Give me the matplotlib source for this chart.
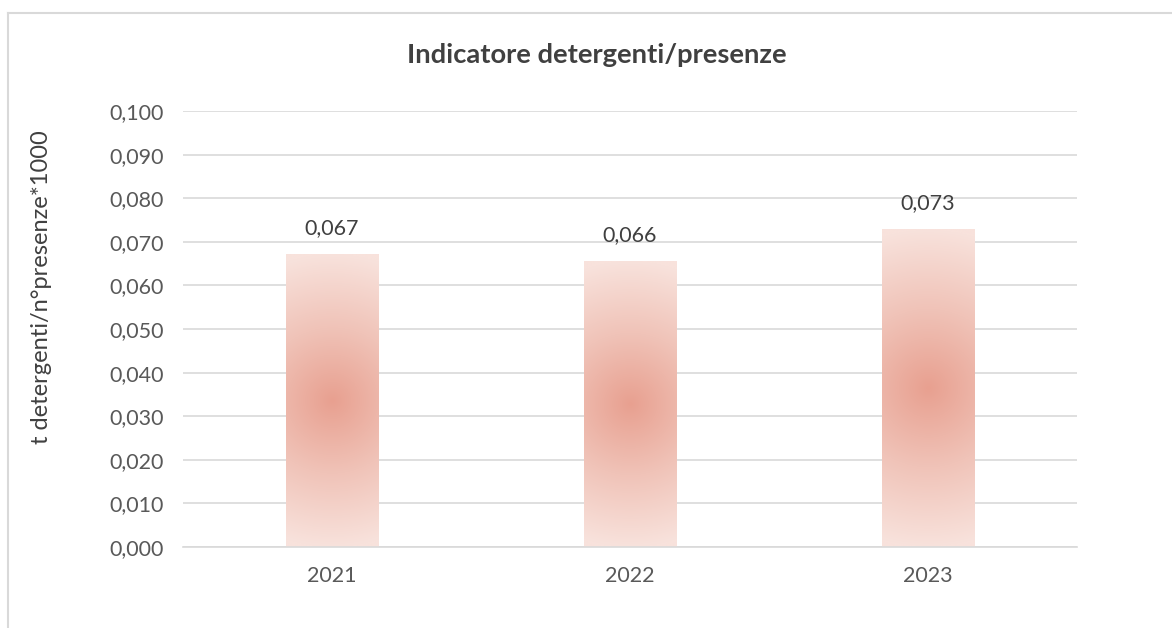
import numpy as np
import matplotlib
matplotlib.use('Agg')
import matplotlib.pyplot as plt
from matplotlib.ticker import FuncFormatter, MultipleLocator
from matplotlib.colors import LinearSegmentedColormap

anni = ['2021', '2022', '2023']
valori = [0.0672, 0.0655, 0.0728]
etichette = ['0,067', '0,066', '0,073']

plt.rcParams['font.family'] = ['Lato', 'DejaVu Sans']

fig = plt.figure(figsize=(11.72, 6.28), dpi=100)
W, H = 1172, 628
ax = fig.add_axes([183 / W, (H - 547) / H, 894 / W, 436 / H])

x = np.arange(len(anni))
bars = ax.bar(x, valori, width=0.31, color='none', zorder=2)
ax.set_xlim(-0.5, 2.5)
ax.set_ylim(0, 0.1)

# gradiente radiale dentro ogni barra
cmap = LinearSegmentedColormap.from_list('rosa', ['#E8A090', '#F0C3B8', '#F8E2DC'])
for b in bars:
    x0, y0, w, h = b.get_x(), b.get_y(), b.get_width(), b.get_height()
    p0 = ax.transData.transform((x0, y0))
    p1 = ax.transData.transform((x0 + w, y0 + h))
    pw, ph = p1[0] - p0[0], p1[1] - p0[1]
    gx = np.linspace(-pw / 2, pw / 2, 120)
    gy = np.linspace(-ph / 2, ph / 2, 300)
    XX, YY = np.meshgrid(gx, gy)
    t = np.clip(np.sqrt(XX ** 2 + YY ** 2) / (ph / 2), 0, 1)
    ax.imshow(t, cmap=cmap, vmin=0, vmax=1, extent=(x0, x0 + w, y0, y0 + h),
              aspect='auto', origin='lower', zorder=2, interpolation='bilinear')

for i, b in enumerate(bars):
    ax.text(b.get_x() + b.get_width() / 2, b.get_height() + 0.0037, etichette[i],
            ha='center', va='bottom', fontsize=15.5, color='#404040')

ax.set_aspect('auto')
ax.set_xlim(-0.5, 2.5)
ax.set_ylim(0, 0.1)
ax.yaxis.set_major_locator(MultipleLocator(0.01))
ax.yaxis.set_major_formatter(FuncFormatter(lambda v, p: ('%.3f' % v).replace('.', ',')))
ax.set_xticks(x)
ax.set_xticklabels(anni)
ax.grid(axis='y', color='#D9D9D9', linewidth=1.2, zorder=0)
ax.set_axisbelow(True)
for s in ['top', 'right', 'left']:
    ax.spines[s].set_visible(False)
ax.spines['bottom'].set_color('#D9D9D9')
ax.spines['bottom'].set_linewidth(1.2)
ax.tick_params(length=0, labelsize=15.5, labelcolor='#595959')
ax.tick_params(axis='y', pad=14)
ax.tick_params(axis='x', pad=14)

fig.text(42 / W, 1 - 287 / H, 't detergenti/n°presenze*1000', rotation=90,
         ha='center', va='center', fontsize=17, color='#404040')
fig.text(597 / W, 1 - 55 / H, 'Indicatore detergenti/presenze', ha='center', va='center',
         fontsize=19.7, fontweight='bold', color='#404040')

# cornice del grafico
fig.add_artist(plt.Line2D([8 / W, 1], [1 - 13 / H, 1 - 13 / H], color='#D9D9D9', lw=1.5))
fig.add_artist(plt.Line2D([8 / W, 8 / W], [0, 1 - 13 / H], color='#D9D9D9', lw=1.5))

fig.savefig('out.png', dpi=100)
